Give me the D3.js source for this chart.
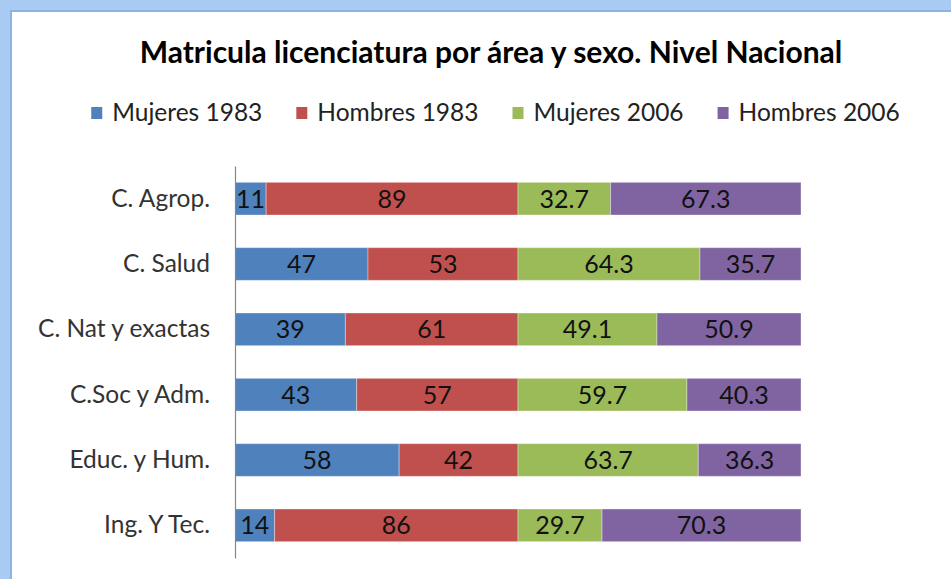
<!DOCTYPE html>
<html>
<head>
<meta charset="utf-8">
<script src="https://cdn.jsdelivr.net/npm/d3@7"></script>
<style>
  html, body { margin: 0; padding: 0; background: #ffffff; }
  svg { display: block; }
  text { font-family: Lato, "Open Sans", sans-serif; }
</style>
</head>
<body>
<svg id="chart" width="951" height="579"></svg>
<script>
const title = "Matricula licenciatura por área y sexo. Nivel Nacional";
const categories = ["C. Agrop.", "C. Salud", "C. Nat y exactas", "C.Soc y Adm.", "Educ. y Hum.", "Ing. Y Tec."];
const seriesNames = ["Mujeres 1983", "Hombres 1983", "Mujeres 2006", "Hombres 2006"];
const mujeres1983 = [11, 47, 39, 43, 58, 14];
const hombres1983 = [89, 53, 61, 57, 42, 86];
const mujeres2006 = [32.7, 64.3, 49.1, 59.7, 63.7, 29.7];
const hombres2006 = [67.3, 35.7, 50.9, 40.3, 36.3, 70.3];
const colors = ["#4F81BD", "#C0504D", "#9BBB59", "#8064A2"];

const svg = d3.select("#chart");
const W = 951, H = 579;

// frame
svg.append("rect").attr("x", 0).attr("y", 0).attr("width", W).attr("height", H).attr("fill", "#A9CAF2");
svg.append("rect").attr("x", 11).attr("y", 11).attr("width", W).attr("height", H)
  .attr("fill", "#ffffff").attr("stroke", "#8DB3E4").attr("stroke-width", 2);

// data table
const table = categories.map((c, i) => ({
  cat: c,
  [seriesNames[0]]: mujeres1983[i],
  [seriesNames[1]]: hombres1983[i],
  [seriesNames[2]]: mujeres2006[i],
  [seriesNames[3]]: hombres2006[i]
}));
const stacked = d3.stack().keys(seriesNames)(table);

const x = d3.scaleLinear().domain([0, 200]).range([235, 801]);
const y = d3.scaleBand().domain(categories).range([166, 558]).paddingInner(0.5).paddingOuter(0.25);
const color = d3.scaleOrdinal().domain(seriesNames).range(colors);

// title
svg.append("text").attr("x", 491).attr("y", 63).attr("text-anchor", "middle")
  .attr("font-size", 30).attr("font-weight", "bold").attr("fill", "#000").text(title);

// bars
const g = svg.append("g");
const layers = g.selectAll("g.layer").data(stacked).join("g").attr("class", "layer")
  .attr("fill", d => color(d.key));
layers.selectAll("rect").data(d => d).join("rect")
  .attr("x", d => x(d[0]))
  .attr("y", d => y(d.data.cat))
  .attr("width", d => x(d[1]) - x(d[0]))
  .attr("height", y.bandwidth())
  .attr("stroke", "rgba(255,255,255,0.35)").attr("stroke-width", 1);

// value labels
layers.selectAll("text").data(d => d.map(v => ({ v, key: d.key }))).join("text")
  .attr("x", d => (x(d.v[0]) + x(d.v[1])) / 2)
  .attr("y", d => y(d.v.data.cat) + y.bandwidth() / 2)
  .attr("dy", "0.36em")
  .attr("text-anchor", "middle")
  .attr("font-size", 25).attr("fill", "#111")
  .text(d => d.v.data[d.key]);

// axis
const yAxis = d3.axisLeft(y).tickSize(0).tickPadding(25);
const ax = svg.append("g").attr("transform", `translate(${x(0)},0)`).call(yAxis);
ax.select(".domain").attr("stroke", "#868686").attr("stroke-width", 1.2);
ax.selectAll(".tick text").attr("font-size", 24.5).attr("fill", "#333")
  .attr("font-family", "Lato, sans-serif");

// legend
const leg = svg.append("g");
const items = leg.selectAll("g").data(seriesNames).join("g");
items.append("rect").attr("width", 11).attr("height", 12).attr("y", -14)
  .attr("fill", d => color(d));
items.append("text").attr("x", 21).attr("y", 0).attr("font-size", 24.5).attr("fill", "#222").text(d => d);
let cx = 0;
items.each(function () {
  const tw = d3.select(this).select("text").node().getComputedTextLength();
  d3.select(this).attr("transform", `translate(${cx},0)`);
  cx += 21 + tw + 34;
});
const totalW = cx - 34;
leg.attr("transform", `translate(${495.5 - totalW / 2},121)`);
</script>
</body>
</html>
